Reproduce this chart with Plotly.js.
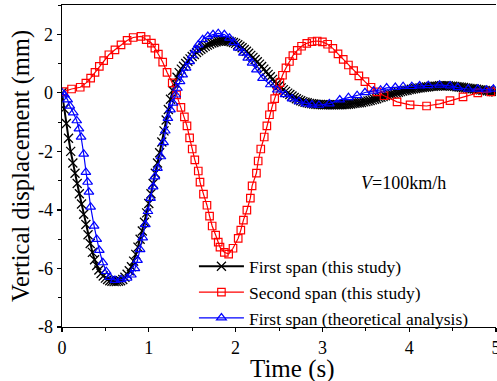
<!DOCTYPE html>
<html>
<head>
<meta charset="utf-8">
<script src="https://cdn.plot.ly/plotly-3.0.1.min.js"></script>
<style>html,body{margin:0;padding:0;background:#fff;}#chart{width:497px;height:381px;}</style>
</head>
<body>
<div id="chart"></div>
<script>
// First span (this study): sampled every 0.025 s
const firstStudyStep = 0.025;
const firstStudyDisp = [0,-0.55,-1.05,-1.55,-2.0,-2.4,-2.75,-3.1,-3.45,-3.8,-4.15,-4.5,-4.85,-5.15,-5.45,-5.7,-5.9,-6.05,-6.17,-6.26,-6.33,-6.38,-6.42,-6.44,-6.45,-6.45,-6.44,-6.42,-6.38,-6.3,-6.2,-6.08,-5.94,-5.75,-5.52,-5.27,-5.0,-4.72,-4.42,-4.1,-3.78,-3.45,-3.1,-2.75,-2.4,-2.05,-1.68,-1.3,-0.93,-0.57,-0.22,0.08,0.33,0.53,0.69,0.81,0.91,1.0,1.08,1.16,1.24,1.31,1.38,1.44,1.49,1.54,1.59,1.63,1.67,1.7,1.72,1.74,1.76,1.77,1.78,1.78,1.77,1.76,1.74,1.72,1.69,1.64,1.59,1.54,1.48,1.42,1.35,1.28,1.21,1.14,1.06,0.98,0.9,0.81,0.72,0.63,0.55,0.46,0.38,0.31,0.24,0.17,0.11,0.05,-0.01,-0.06,-0.11,-0.16,-0.2,-0.24,-0.27,-0.3,-0.32,-0.34,-0.36,-0.37,-0.38,-0.39,-0.4,-0.4,-0.41,-0.41,-0.41,-0.41,-0.41,-0.41,-0.41,-0.41,-0.41,-0.41,-0.4,-0.4,-0.39,-0.38,-0.37,-0.36,-0.35,-0.34,-0.33,-0.31,-0.3,-0.28,-0.26,-0.24,-0.22,-0.2,-0.17,-0.15,-0.13,-0.1,-0.08,-0.06,-0.04,-0.02,0.0,0.02,0.04,0.06,0.08,0.09,0.11,0.12,0.14,0.15,0.16,0.17,0.18,0.19,0.2,0.21,0.22,0.22,0.23,0.23,0.24,0.24,0.24,0.24,0.24,0.23,0.23,0.22,0.21,0.2,0.19,0.18,0.17,0.16,0.15,0.14,0.13,0.12,0.11,0.1,0.09,0.08,0.07,0.06,0.05,0.04,0.03];
const firstStudyTime = firstStudyDisp.map((_, i) => +(i * firstStudyStep).toFixed(3));

// Second span (this study)
const secondStudyTime = [0.02,0.11,0.21,0.275,0.33,0.38,0.43,0.48,0.54,0.61,0.68,0.75,0.82,0.91,0.97,1.03,1.07,1.11,1.16,1.21,1.27,1.32,1.37,1.41,1.44,1.47,1.50,1.53,1.57,1.59,1.63,1.67,1.70,1.73,1.77,1.80,1.82,1.87,1.92,1.97,2.03,2.06,2.09,2.13,2.17,2.19,2.24,2.26,2.29,2.33,2.36,2.39,2.42,2.45,2.48,2.51,2.54,2.58,2.62,2.66,2.71,2.76,2.82,2.88,2.94,3.0,3.06,3.12,3.18,3.24,3.30,3.36,3.42,3.49,3.56,3.63,3.71,3.86,4.01,4.20,4.35,4.47,4.62,4.79,4.94];
const secondStudyDisp = [0.04,0.13,0.19,0.33,0.50,0.70,0.90,1.10,1.30,1.47,1.64,1.79,1.89,1.93,1.82,1.70,1.53,1.32,1.05,0.7,0.34,-0.07,-0.5,-0.82,-1.13,-1.54,-1.92,-2.29,-2.67,-3.05,-3.46,-3.84,-4.21,-4.55,-4.86,-5.10,-5.27,-5.45,-5.51,-5.31,-4.97,-4.69,-4.35,-4.01,-3.60,-3.18,-2.74,-2.33,-1.92,-1.51,-1.13,-0.75,-0.48,-0.2,0.08,0.35,0.6,0.85,1.07,1.27,1.45,1.59,1.69,1.75,1.77,1.74,1.66,1.52,1.33,1.14,0.95,0.76,0.58,0.38,0.19,0.03,-0.1,-0.31,-0.41,-0.45,-0.38,-0.27,-0.14,0.0,0.03];

// First span (theoretical analysis)
const firstTheoryTime = [0.0,0.03,0.065,0.09,0.13,0.17,0.195,0.22,0.25,0.275,0.295,0.31,0.33,0.37,0.40,0.43,0.47,0.51,0.55,0.61,0.68,0.75,0.80,0.84,0.87,0.90,0.93,0.96,0.99,1.02,1.05,1.07,1.10,1.14,1.17,1.19,1.22,1.25,1.28,1.31,1.33,1.36,1.39,1.43,1.47,1.50,1.54,1.57,1.62,1.68,1.74,1.80,1.87,1.93,1.98,2.03,2.09,2.14,2.19,2.24,2.31,2.40,2.48,2.57,2.65,2.73,2.81,2.88,2.96,3.08,3.20,3.30,3.40,3.49,3.59,3.67,3.74,3.84,3.93,4.03,4.12,4.22,4.35,4.47,4.56,4.68,4.79,4.89,4.97];
const firstTheoryDisp = [0.0,-0.07,-0.24,-0.45,-0.68,-0.95,-1.23,-1.51,-2.09,-2.71,-3.05,-3.39,-3.9,-4.55,-5.0,-5.38,-5.8,-6.1,-6.3,-6.4,-6.38,-6.33,-6.22,-6.0,-5.72,-5.35,-4.95,-4.5,-4.05,-3.6,-3.21,-2.87,-2.58,-2.18,-1.7,-1.3,-0.87,-0.58,-0.35,-0.07,0.16,0.39,0.62,0.85,1.07,1.27,1.47,1.64,1.82,1.93,1.99,2.03,1.99,1.87,1.72,1.53,1.36,1.19,1.02,0.79,0.5,0.28,0.1,-0.06,-0.2,-0.3,-0.37,-0.41,-0.42,-0.37,-0.24,-0.16,-0.09,0.01,0.06,0.10,0.17,0.19,0.22,0.22,0.24,0.25,0.27,0.24,0.18,0.13,0.13,0.10,0.13];

const seriesNames = ['First span (this study)', 'Second span (this study)', 'First span (theoretical analysis)'];
const xTickVals = [0,1,2,3,4,5];
const xTickText = ['0','1','2','3','4','5'];
const yTickVals = [-8,-6,-4,-2,0,2];
const yTickText = ['-8','-6','-4','-2','0','2'];
const xTitle = 'Time (s)';
const yTitle = 'Vertical displacement (mm)';
const speedLabel = '<i>V</i>=100km/h';

const FONT = 'Liberation Serif, Times New Roman, serif';

const traces = [
  {x: firstStudyTime, y: firstStudyDisp, name: seriesNames[0], type: 'scatter', mode: 'lines+markers',
   line: {color: '#000000', width: 2},
   marker: {symbol: 'x-thin-open', size: 9, color: '#000000', line: {color: '#000000', width: 1.3}}},
  {x: secondStudyTime, y: secondStudyDisp, name: seriesNames[1], type: 'scatter', mode: 'lines+markers',
   line: {color: '#ff0000', width: 1.2},
   marker: {symbol: 'square-open', size: 7.5, color: '#ff0000', line: {color: '#ff0000', width: 1.2}}},
  {x: firstTheoryTime, y: firstTheoryDisp, name: seriesNames[2], type: 'scatter', mode: 'lines+markers',
   line: {color: '#0000ff', width: 1.2},
   marker: {symbol: 'triangle-up-open', size: 8.5, color: '#0000ff', line: {color: '#0000ff', width: 1.2}}}
];

const layout = {
  width: 497, height: 381,
  margin: {l: 62, r: 1, t: 5, b: 54},
  paper_bgcolor: '#ffffff', plot_bgcolor: '#ffffff',
  font: {family: FONT, size: 17, color: '#000000'},
  showlegend: true,
  legend: {x: 0.304, y: 0.244, xanchor: 'left', yanchor: 'top', bgcolor: 'rgba(0,0,0,0)',
           font: {family: FONT, size: 17.5, color: '#000'}, itemwidth: 45, tracegroupgap: 0},
  xaxis: {
    range: [0, 5], tickvals: xTickVals, ticktext: xTickText, ticklabeloverflow: 'allow',
    showgrid: false, zeroline: false, showline: true, linecolor: '#000', linewidth: 1.3,
    mirror: true, ticks: 'outside', ticklen: 4, tickwidth: 1.2, tickcolor: '#000',
    minor: {dtick: 0.5, ticks: 'outside', ticklen: 3, tickwidth: 1, tickcolor: '#000'},
    tickfont: {family: FONT, size: 18}
  },
  yaxis: {
    range: [-8, 3], tickvals: yTickVals, ticktext: yTickText,
    showgrid: false, zeroline: false, showline: true, linecolor: '#000', linewidth: 1.3,
    ticks: 'outside', ticklen: 4, tickwidth: 1.2, tickcolor: '#000',
    minor: {dtick: 1, ticks: 'outside', ticklen: 3, tickwidth: 1, tickcolor: '#000'},
    tickfont: {family: FONT, size: 18},
    title: {text: yTitle, font: {family: FONT, size: 24.5}, standoff: 1}
  },
  annotations: [
    {x: 3.93, y: -3.08, xref: 'x', yref: 'y', text: speedLabel, showarrow: false,
     font: {family: FONT, size: 18, color: '#000'}},
    {x: 0.532, y: -0.131, xref: 'paper', yref: 'paper', text: xTitle, showarrow: false,
     xanchor: 'center', yanchor: 'middle', font: {family: FONT, size: 25, color: '#000'}}
  ]
};

Plotly.newPlot('chart', traces, layout, {staticPlot: true, displayModeBar: false});
</script>
</body>
</html>
